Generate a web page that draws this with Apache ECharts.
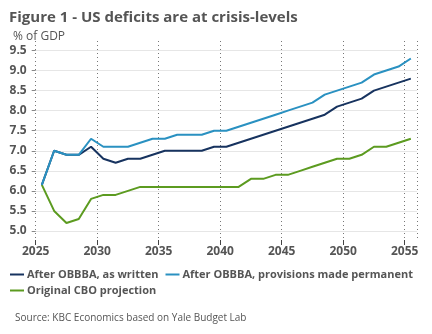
<!DOCTYPE html>
<html><head><meta charset="utf-8">
<script src="https://cdn.jsdelivr.net/npm/echarts@6/dist/echarts.min.js"></script>
<style>html,body{margin:0;padding:0;background:#fff}#c{width:432px;height:334px}</style>
</head><body><div id="c"></div>
<script>
const years = [2025,2026,2027,2028,2029,2030,2031,2032,2033,2034,2035,2036,2037,2038,2039,2040,2041,2042,2043,2044,2045,2046,2047,2048,2049,2050,2051,2052,2053,2054,2055];
const asWritten = [6.15,7.0,6.9,6.9,7.1,6.8,6.7,6.8,6.8,6.9,7.0,7.0,7.0,7.0,7.1,7.1,7.2,7.3,7.4,7.5,7.6,7.7,7.8,7.9,8.1,8.2,8.3,8.5,8.6,8.7,8.8];
const permanent = [6.15,7.0,6.9,6.9,7.3,7.1,7.1,7.1,7.2,7.3,7.3,7.4,7.4,7.4,7.5,7.5,7.6,7.7,7.8,7.9,8.0,8.1,8.2,8.4,8.5,8.6,8.7,8.9,9.0,9.1,9.3];
const cbo = [6.15,5.5,5.2,5.3,5.8,5.9,5.9,6.0,6.1,6.1,6.1,6.1,6.1,6.1,6.1,6.1,6.1,6.3,6.3,6.4,6.4,6.5,6.6,6.7,6.8,6.8,6.9,7.1,7.1,7.2,7.3];
const names = ['After OBBBA, as written','After OBBBA, provisions made permanent','Original CBO projection'];
const colors = ['#17335f','#2a91c1','#5c9b20'];

const pts = arr => arr.map((v,i)=>[years[i]+0.5, v]);
const font = '"Open Sans", "Noto Sans", sans-serif';
const txt = '#555';

const chart = echarts.init(document.getElementById('c'), null, {renderer:'canvas'});
const legendText = {color:txt, fontWeight:'bold', fontSize:11, fontFamily:font, padding:[0,0,0,-2]};
chart.setOption({
  animation:false,
  textStyle:{fontFamily:font},
  title:[
    {text:'Figure 1 - US deficits are at crisis-levels', left:4, top:5, textStyle:{fontFamily:font, fontSize:15, fontWeight:'bold', color:txt}},
    {text:'% of GDP', left:8, top:26, textStyle:{fontFamily:font, fontSize:12, fontWeight:'normal', color:txt}},
    {text:'Source: KBC Economics based on Yale Budget Lab', left:10, top:308, textStyle:{fontFamily:font, fontSize:10, fontWeight:'normal', color:txt}}
  ],
  grid:[
    {left:35.7, right:15, top:50.5, bottom:103, containLabel:false},
    {left:35.7, right:15, top:41, bottom:94, containLabel:false}
  ],
  xAxis:[
    {gridIndex:0, type:'value', min:2025, max:2056, interval:5, show:false},
    {gridIndex:1, type:'value', min:2025, max:2056, interval:5,
      axisLine:{show:false},
      axisTick:{show:true, length:5, lineStyle:{color:'#444'}},
      axisLabel:{margin:6, color:txt, fontWeight:'bold', fontSize:12, fontFamily:font, showMaxLabel:false, formatter:v=>String(v)},
      splitLine:{show:true, lineStyle:{type:[1,3], color:'#777', width:1}}}
  ],
  yAxis:[
    {gridIndex:0, type:'value', min:5, max:9.5, interval:0.5,
      axisLine:{show:false},
      axisTick:{show:true, length:4, lineStyle:{color:'#888'}},
      axisLabel:{margin:9, color:txt, fontWeight:'bold', fontSize:12, fontFamily:font, formatter:v=>v.toFixed(1)},
      splitLine:{show:true, lineStyle:{color:'#e6e6e6', width:1}}},
    {gridIndex:1, type:'value', min:0, max:1, show:false}
  ],
  legend:[
    {left:10, top:269, padding:0, width:425, itemWidth:14, itemHeight:2, itemGap:7, icon:'rect', data:[names[0],names[1]], textStyle:legendText},
    {left:10, top:285, padding:0, itemWidth:14, itemHeight:2, itemGap:7, icon:'rect', data:[names[2]], textStyle:legendText}
  ],
  series:[
    {name:names[2], type:'line', xAxisIndex:0, yAxisIndex:0, data:pts(cbo), showSymbol:false, lineStyle:{width:2, color:colors[2]}, itemStyle:{color:colors[2]}},
    {name:names[0], type:'line', xAxisIndex:0, yAxisIndex:0, data:pts(asWritten), showSymbol:false, lineStyle:{width:2, color:colors[0]}, itemStyle:{color:colors[0]}},
    {name:names[1], type:'line', xAxisIndex:0, yAxisIndex:0, data:pts(permanent), showSymbol:false, lineStyle:{width:2, color:colors[1]}, itemStyle:{color:colors[1]}}
  ]
});
</script></body></html>
